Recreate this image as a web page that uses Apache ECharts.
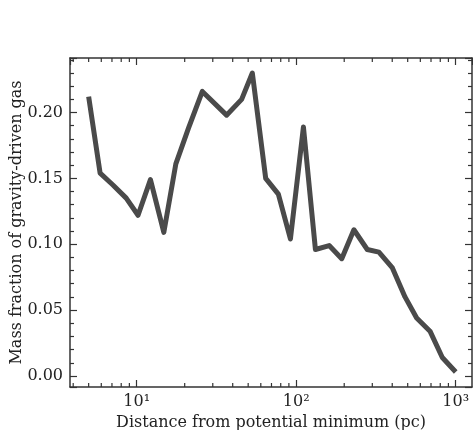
<!DOCTYPE html>
<html>
<head>
<meta charset="utf-8">
<script src="https://cdn.jsdelivr.net/npm/echarts@6/dist/echarts.min.js"></script>
<style>
  html, body { margin: 0; padding: 0; background: #fff; }
  #chart { width: 473px; height: 430px; }
</style>
</head>
<body>
<div id="chart"></div>
<script>
// distance from potential minimum (pc) and mass fraction
const distance = [5.0, 5.9, 7.1, 8.6, 10.2, 12.2, 14.8, 17.6, 21.1, 25.8, 36.6, 45.5, 53.1, 64.4, 77.3, 92,
  111, 132, 161, 193, 230, 279, 330, 401, 481, 569, 690, 824, 1000]
const massFraction = [0.212, 0.154, 0.145, 0.135, 0.122, 0.149, 0.109, 0.161, 0.188, 0.216, 0.198, 0.210, 0.230, 0.150, 0.138, 0.104,
  0.189, 0.096, 0.099, 0.089, 0.111, 0.096, 0.094, 0.082, 0.060, 0.044, 0.034, 0.014, 0.003]
const xMinorTicks = [4, 5, 6, 7, 8, 9, 20, 30, 40, 50, 60, 70, 80, 90, 200, 300, 400, 500, 600, 700, 800, 900]
const X_MIN = 3.82
const X_MAX = 1265
const Y_MIN = -0.0084
const Y_MAX = 0.2414

const sup = ['\u2070', '\u00b9', '\u00b2', '\u00b3', '\u2074']
const serif = 'DejaVu Serif'
const frame = '#333'

function logLabel (v) {
  let e = Math.round(Math.log10(v))
  if (Math.abs(v - Math.pow(10, e)) / v > 1e-6) return ''
  return '10' + sup[e]
}

function xAxisCfg (pos, labels) {
  return {
    type: 'log',
    logBase: 10,
    position: pos,
    min: X_MIN,
    max: X_MAX,
    name: labels ? 'Distance from potential minimum (pc)' : '',
    nameLocation: 'middle',
    nameGap: 28,
    nameTextStyle: { fontFamily: serif, fontSize: 16, color: '#222' },
    axisLine: { show: true, onZero: false, lineStyle: { color: frame, width: 1.5 } },
    axisTick: { show: true, inside: true, length: 7, lineStyle: { color: frame, width: 1.2 } },
    minorTick: { show: false },
    splitLine: { show: false },
    axisLabel: {
      show: labels,
      showMinLabel: false,
      showMaxLabel: false,
      margin: 7,
      fontFamily: serif,
      fontSize: 16,
      color: '#222',
      formatter: logLabel
    }
  }
}

function yAxisCfg (pos, labels) {
  return {
    type: 'value',
    position: pos,
    min: Y_MIN,
    max: Y_MAX,
    splitNumber: 5,
    name: labels ? 'Mass fraction of gravity-driven gas' : '',
    nameLocation: 'middle',
    nameGap: 45,
    nameMoveOverlap: false,
    nameTextStyle: { fontFamily: serif, fontSize: 16, color: '#222' },
    axisLine: { show: true, onZero: false, lineStyle: { color: frame, width: 1.5 } },
    axisTick: { show: true, inside: true, length: 7, lineStyle: { color: frame, width: 1.2 } },
    minorTick: { show: true, splitNumber: 5, length: 4, lineStyle: { color: frame, width: 1.2 } },
    splitLine: { show: false },
    axisLabel: {
      show: labels,
      showMinLabel: false,
      showMaxLabel: false,
      margin: 7,
      fontFamily: serif,
      fontSize: 16,
      color: '#222',
      formatter: function (v) { return v.toFixed(2) }
    }
  }
}

let myChart = echarts.init(document.getElementById('chart'))
let option = {
  animation: false,
  backgroundColor: '#fff',
  grid: { left: 70, top: 58, right: 1, bottom: 43, containLabel: false, outerBoundsMode: 'none' },
  xAxis: [xAxisCfg('bottom', true), xAxisCfg('top', false)],
  yAxis: [yAxisCfg('left', true), yAxisCfg('right', false)],
  series: [
    {
      type: 'line',
      data: distance.map(function (d, i) { return [d, massFraction[i]] }),
      showSymbol: false,
      symbol: 'none',
      lineStyle: { color: '#4a4a4a', width: 5, join: 'round', cap: 'butt' },
      z: 3
    },
    {
      // minor ticks of the log axis, bottom and top
      type: 'custom',
      silent: true,
      clip: false,
      data: xMinorTicks.map(function (v) { return [v, Y_MIN, Y_MAX] }),
      encode: { x: 0, y: 1 },
      renderItem: function (params, api) {
        let b = api.coord([api.value(0), Y_MIN])
        let t = api.coord([api.value(0), Y_MAX])
        let st = { stroke: frame, lineWidth: 1.2 }
        return {
          type: 'group',
          children: [
            { type: 'line', shape: { x1: b[0], y1: b[1], x2: b[0], y2: b[1] - 4 }, style: st },
            { type: 'line', shape: { x1: t[0], y1: t[1], x2: t[0], y2: t[1] + 4 }, style: st }
          ]
        }
      },
      z: 4
    }
  ]
}
myChart.setOption(option)
</script>
</body>
</html>
